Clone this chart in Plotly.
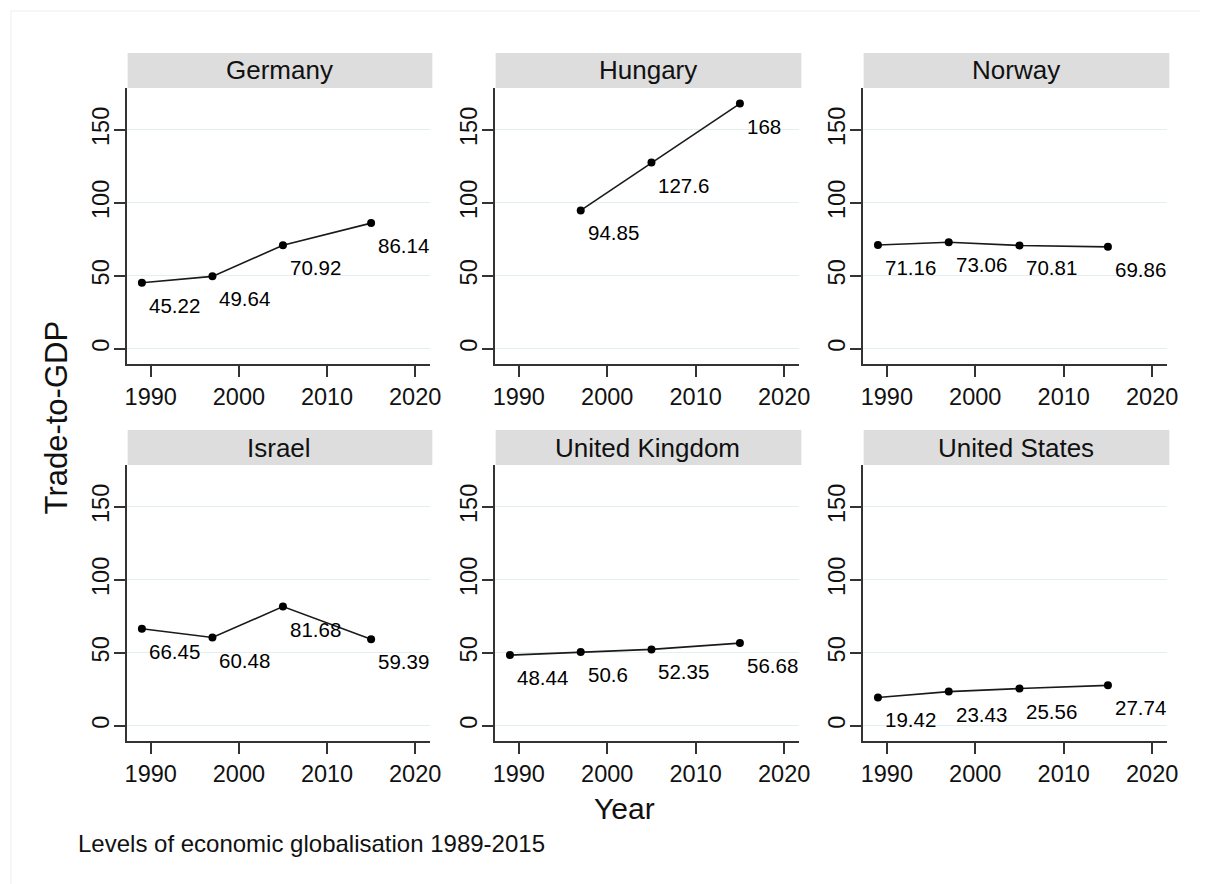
import plotly.graph_objects as go

# ---- data ----
countries = ["Germany", "Hungary", "Norway", "Israel", "United Kingdom", "United States"]
years_full = [1989, 1997, 2005, 2015]
years_hungary = [1997, 2005, 2015]
germany = [45.22, 49.64, 70.92, 86.14]
hungary = [94.85, 127.6, 168]
norway = [71.16, 73.06, 70.81, 69.86]
israel = [66.45, 60.48, 81.68, 59.39]
united_kingdom = [48.44, 50.6, 52.35, 56.68]
united_states = [19.42, 23.43, 25.56, 27.74]
x_ticks = [1990, 2000, 2010, 2020]
y_ticks = [0, 50, 100, 150]
x_title = "Year"
y_title = "Trade-to-GDP"
caption = "Levels of economic globalisation 1989-2015"

series_x = [years_full, years_hungary, years_full, years_full, years_full, years_full]
series_y = [germany, hungary, norway, israel, united_kingdom, united_states]

# ---- layout geometry (pixels) ----
W, H = 1211, 884
col_px = [(126, 433), (498, 806), (870, 1178)]
row_px = [(88, 364), (465, 741)]
HEADER_H = 35
FONT = "Liberation Sans, Arial, sans-serif"
AXIS_COL = "#333333"


def px_x(p):
    return p / W


def px_y(p):
    return 1 - p / H


fig = go.Figure()
shapes = []
annotations = []
layout_axes = {}

for i, name in enumerate(countries):
    r, c = divmod(i, 3)
    n = i + 1
    xs = "" if n == 1 else str(n)
    x0, x1 = col_px[c]
    y0, y1 = row_px[r]

    fig.add_trace(go.Scatter(
        x=series_x[i], y=series_y[i], mode="lines+markers",
        line=dict(color="#1a1a1a", width=1.6),
        marker=dict(color="black", size=8, symbol="circle"),
        xaxis="x" + xs, yaxis="y" + xs, hoverinfo="skip",
    ))

    for xv, yv in zip(series_x[i], series_y[i]):
        annotations.append(dict(
            x=xv, y=yv, xref="x" + xs, yref="y" + xs,
            text=f"{yv:g}", showarrow=False,
            xanchor="left", yanchor="top", xshift=5, yshift=-9,
            font=dict(family=FONT, size=20.5, color="black"),
        ))

    layout_axes["xaxis" + xs] = dict(
        domain=[px_x(x0), px_x(x1)], range=[1987.27, 2021.72],
        anchor="y" + xs, tickvals=x_ticks, ticks="outside", ticklen=11,
        tickwidth=1.5, tickcolor=AXIS_COL, showline=True, linecolor=AXIS_COL,
        linewidth=1.5, showgrid=False, zeroline=False,
        tickfont=dict(family=FONT, size=23.5, color="#111111"),
        ticklabelstandoff=0, fixedrange=True,
    )
    layout_axes["yaxis" + xs] = dict(
        domain=[px_y(y1), px_y(y0)], range=[-10.4, 178.7],
        anchor="x" + xs, tickvals=y_ticks, ticks="outside", ticklen=11,
        tickwidth=1.5, tickcolor=AXIS_COL, showline=True, linecolor=AXIS_COL,
        linewidth=1.5, showgrid=True, gridcolor="#e3eef0", gridwidth=1.2,
        zeroline=False, tickangle=-90,
        tickfont=dict(family=FONT, size=23.5, color="#111111"),
        ticklabelstandoff=-4, fixedrange=True,
    )

    # strip header
    shapes.append(dict(
        type="rect", xref="paper", yref="paper",
        x0=px_x(x0 + 1), x1=px_x(x1 + 2), y0=px_y(y0), y1=px_y(y0 - HEADER_H),
        fillcolor="#dddddd", line=dict(width=0), layer="below",
    ))
    annotations.append(dict(
        x=px_x((x0 + x1) / 2 + 1), y=px_y(y0 - HEADER_H / 2), xref="paper", yref="paper",
        text=name, showarrow=False, xanchor="center", yanchor="middle",
        font=dict(family=FONT, size=26, color="#111111"),
    ))

# faint outer frame
shapes.append(dict(type="line", xref="paper", yref="paper",
                   x0=px_x(9), x1=1, y0=px_y(11), y1=px_y(11),
                   line=dict(color="#eeeeee", width=1)))
shapes.append(dict(type="line", xref="paper", yref="paper",
                   x0=px_x(9), x1=px_x(9), y0=px_y(11), y1=0,
                   line=dict(color="#eeeeee", width=1)))

# shared titles and caption
annotations.append(dict(
    x=px_x(55), y=px_y(417), xref="paper", yref="paper", text=y_title,
    textangle=-90, showarrow=False, xanchor="center", yanchor="middle",
    font=dict(family=FONT, size=31, color="#111111"),
))
annotations.append(dict(
    x=px_x(629), y=px_y(808), xref="paper", yref="paper", text=x_title,
    showarrow=False, xanchor="center", yanchor="middle",
    font=dict(family=FONT, size=30, color="#111111"),
))
annotations.append(dict(
    x=px_x(75), y=px_y(843), xref="paper", yref="paper", text=caption,
    showarrow=False, xanchor="left", yanchor="middle",
    font=dict(family=FONT, size=24, color="#111111"),
))

fig.update_layout(
    width=W, height=H, margin=dict(l=0, r=0, t=0, b=0),
    paper_bgcolor="white", plot_bgcolor="white", showlegend=False,
    shapes=shapes, annotations=annotations, **layout_axes,
)

fig.write_html("out.html")
